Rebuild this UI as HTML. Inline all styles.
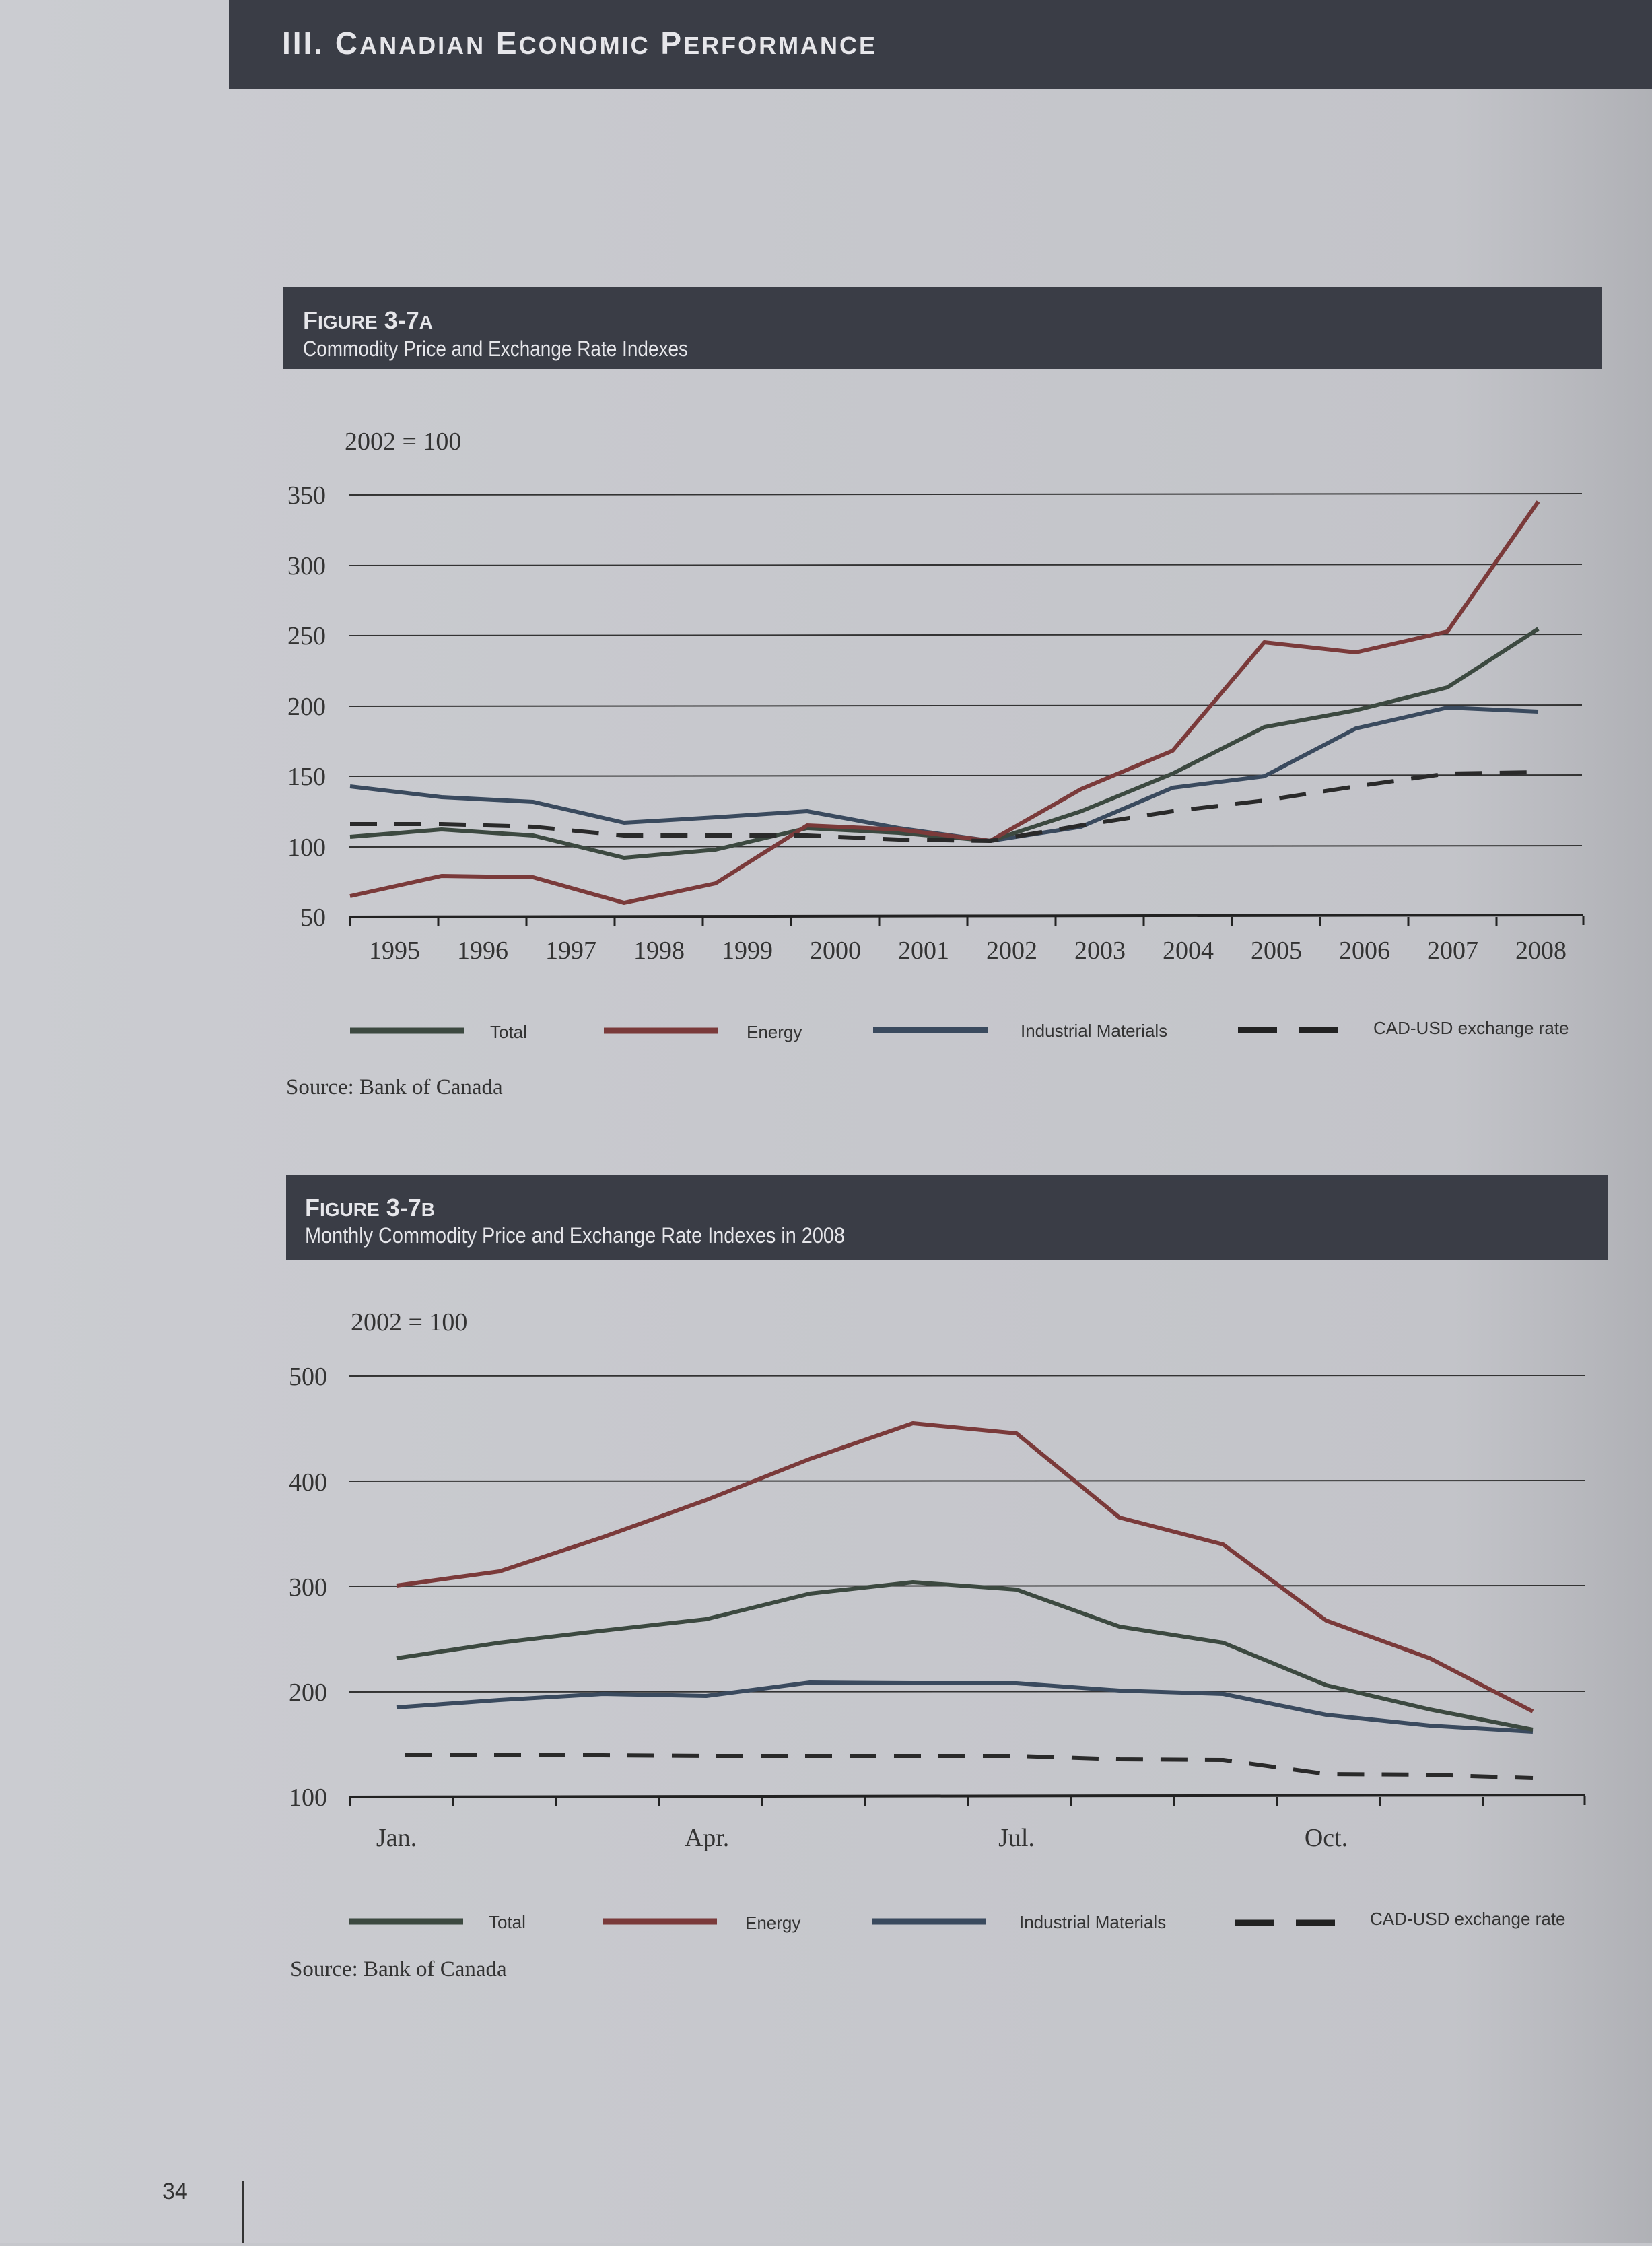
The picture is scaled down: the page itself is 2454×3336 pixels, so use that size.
<!DOCTYPE html>
<html><head><meta charset="utf-8"><style>html,body{margin:0;padding:0;background:#c6c7cc}</style></head>
<body>
<svg width="2454" height="3331" viewBox="0 0 2454 3331" xmlns="http://www.w3.org/2000/svg" font-family="Liberation Sans, sans-serif">
<defs><linearGradient id="bg" x1="0" x2="1" y1="0" y2="0">
<stop offset="0" stop-color="#cbccd1"/><stop offset="0.88" stop-color="#c3c4c9"/><stop offset="1" stop-color="#b0b1b6"/></linearGradient></defs>
<rect width="2454" height="3331" fill="url(#bg)"/>
<rect x="340" y="0" width="2114" height="132" fill="#3a3d46"/>
<text x="419" y="80" font-size="46" fill="#e6e6ea" font-weight="bold" letter-spacing="3">III. C<tspan font-size="36">ANADIAN</tspan> E<tspan font-size="36">CONOMIC</tspan> P<tspan font-size="36">ERFORMANCE</tspan></text>

<rect x="421" y="427" width="1959" height="121" fill="#3a3d46"/>
<text x="450" y="488" font-size="36" fill="#e6e6ea" font-weight="bold">F<tspan font-size="28">IGURE</tspan> 3-7<tspan font-size="28">A</tspan></text>
<text x="450" y="529" font-size="32" fill="#e6e6ea" textLength="572" lengthAdjust="spacingAndGlyphs">Commodity Price and Exchange Rate Indexes</text>

<g font-family="Liberation Serif, serif" fill="#333" font-size="38">
<text x="512" y="668">2002 = 100</text>
<g text-anchor="end"><text x="484" y="748">350</text><text x="484" y="853">300</text><text x="484" y="957">250</text><text x="484" y="1062">200</text><text x="484" y="1166">150</text><text x="484" y="1271">100</text><text x="484" y="1375">50</text></g>
<g text-anchor="middle"><text x="586" y="1424">1995</text><text x="717" y="1424">1996</text><text x="848" y="1424">1997</text><text x="979" y="1424">1998</text><text x="1110" y="1424">1999</text><text x="1241" y="1424">2000</text><text x="1372" y="1424">2001</text><text x="1503" y="1424">2002</text><text x="1634" y="1424">2003</text><text x="1765" y="1424">2004</text><text x="1896" y="1424">2005</text><text x="2027" y="1424">2006</text><text x="2158" y="1424">2007</text><text x="2289" y="1424">2008</text></g>
</g>
<g stroke="#333" stroke-width="2"><line x1="518" y1="735" x2="2350" y2="733"/><line x1="518" y1="840" x2="2350" y2="838"/><line x1="518" y1="944" x2="2350" y2="942"/><line x1="518" y1="1049" x2="2350" y2="1047"/><line x1="518" y1="1153" x2="2350" y2="1151"/><line x1="518" y1="1258" x2="2350" y2="1256"/></g>
<line x1="518" y1="1362" x2="2352" y2="1359" stroke="#222" stroke-width="4"/>
<g stroke="#222" stroke-width="3">
<path d="M520 1362v14M651 1362v14M782 1362v14M913 1362v14M1044 1362v14M1175 1362v14M1306 1362v14M1437 1362v14M1568 1362v14M1699 1362v14M1830 1362v14M1961 1362v14M2092 1362v14M2223 1362v14M2352 1360v14"/></g>
<g fill="none" stroke-width="6" stroke-linejoin="round">
<polyline stroke="#3a4a5e" points="520,1168 656,1184 792,1191 927,1222 1063,1214 1199,1205 1335,1230 1471,1249 1606,1228 1742,1170 1878,1153 2014,1082 2150,1051 2285,1057"/>
<polyline stroke="#3c4940" points="520,1243 656,1232 792,1241 927,1274 1063,1262 1199,1230 1335,1237 1471,1249 1606,1205 1742,1149 1878,1080 2014,1055 2150,1021 2285,934"/>
<polyline stroke="#7a3a3a" points="520,1331 656,1301 792,1303 927,1341 1063,1312 1199,1226 1335,1232 1471,1249 1606,1172 1742,1115 1878,954 2014,969 2150,938 2285,745"/>
<polyline stroke="#2a2a2a" stroke-dasharray="40,26" points="520,1224 656,1224 792,1228 927,1241 1063,1241 1199,1241 1335,1247 1471,1249 1606,1226 1742,1205 1878,1189 2014,1168 2150,1149 2285,1147"/>
</g>
<g stroke-width="9"><line x1="520" y1="1531" x2="690" y2="1531" stroke="#3c4940"/><line x1="897" y1="1531" x2="1067" y2="1531" stroke="#7a3a3a"/><line x1="1297" y1="1530" x2="1467" y2="1530" stroke="#3a4a5e"/><line x1="1839" y1="1530" x2="1897" y2="1530" stroke="#222"/><line x1="1929" y1="1530" x2="1987" y2="1530" stroke="#222"/></g>
<g font-size="26" fill="#333"><text x="728" y="1542">Total</text><text x="1109" y="1542">Energy</text><text x="1516" y="1540">Industrial Materials</text><text x="2040" y="1536">CAD-USD exchange rate</text></g>
<text x="425" y="1625" font-family="Liberation Serif, serif" font-size="33" fill="#333">Source: Bank of Canada</text>

<rect x="425" y="1745" width="1963" height="127" fill="#3a3d46"/>
<text x="453" y="1806" font-size="36" fill="#e6e6ea" font-weight="bold">F<tspan font-size="28">IGURE</tspan> 3-7<tspan font-size="28">B</tspan></text>
<text x="453" y="1846" font-size="32" fill="#e6e6ea" textLength="802" lengthAdjust="spacingAndGlyphs">Monthly Commodity Price and Exchange Rate Indexes in 2008</text>

<g font-family="Liberation Serif, serif" fill="#333" font-size="38">
<text x="521" y="1976">2002 = 100</text>
<g text-anchor="end"><text x="486" y="2057">500</text><text x="486" y="2214">400</text><text x="486" y="2370">300</text><text x="486" y="2526">200</text><text x="486" y="2682">100</text></g>
<g text-anchor="middle"><text x="589" y="2742">Jan.</text><text x="1050" y="2742">Apr.</text><text x="1510" y="2742">Jul.</text><text x="1970" y="2742">Oct.</text></g>
</g>
<g stroke="#333" stroke-width="2"><line x1="518" y1="2044" x2="2354" y2="2043"/><line x1="518" y1="2200" x2="2354" y2="2199"/><line x1="518" y1="2356" x2="2354" y2="2355"/><line x1="518" y1="2513" x2="2354" y2="2512"/></g>
<line x1="518" y1="2669" x2="2354" y2="2666" stroke="#222" stroke-width="4"/>
<g stroke="#222" stroke-width="3"><path d="M520 2669v14M673 2669v14M826 2669v14M979 2669v14M1132 2669v14M1285 2669v14M1438 2669v14M1591 2669v14M1744 2669v14M1897 2669v14M2050 2669v14M2203 2669v14M2354 2667v14"/></g>
<g fill="none" stroke-width="6" stroke-linejoin="round">
<polyline stroke="#3a4a5e" points="589,2536 742,2525 896,2516 1049,2519 1203,2499 1356,2500 1510,2500 1663,2511 1817,2516 1970,2547 2124,2563 2277,2572"/>
<polyline stroke="#3c4940" points="589,2463 742,2440 896,2422 1049,2405 1203,2367 1356,2350 1510,2361 1663,2416 1817,2440 1970,2503 2124,2539 2277,2569"/>
<polyline stroke="#7a3a3a" points="589,2355 742,2334 896,2283 1049,2228 1203,2167 1356,2114 1510,2129 1663,2254 1817,2294 1970,2407 2124,2463 2277,2542"/>
<polyline stroke="#2a2a2a" stroke-dasharray="40,26" points="602,2607 742,2607 896,2607 1049,2608 1203,2608 1356,2608 1510,2608 1663,2613 1817,2614 1970,2635 2124,2636 2277,2641"/>
</g>
<g stroke-width="9"><line x1="518" y1="2854" x2="688" y2="2854" stroke="#3c4940"/><line x1="895" y1="2854" x2="1065" y2="2854" stroke="#7a3a3a"/><line x1="1295" y1="2854" x2="1465" y2="2854" stroke="#3a4a5e"/><line x1="1835" y1="2856" x2="1893" y2="2856" stroke="#222"/><line x1="1925" y1="2856" x2="1983" y2="2856" stroke="#222"/></g>
<g font-size="26" fill="#333"><text x="726" y="2864">Total</text><text x="1107" y="2865">Energy</text><text x="1514" y="2864">Industrial Materials</text><text x="2035" y="2859">CAD-USD exchange rate</text></g>
<text x="431" y="2935" font-family="Liberation Serif, serif" font-size="33" fill="#333">Source: Bank of Canada</text>

<text x="241" y="3266" font-family="Liberation Sans, sans-serif" font-size="34" fill="#333">34</text>
<line x1="361" y1="3240" x2="361" y2="3331" stroke="#333" stroke-width="3"/>
</svg>
</body></html>
